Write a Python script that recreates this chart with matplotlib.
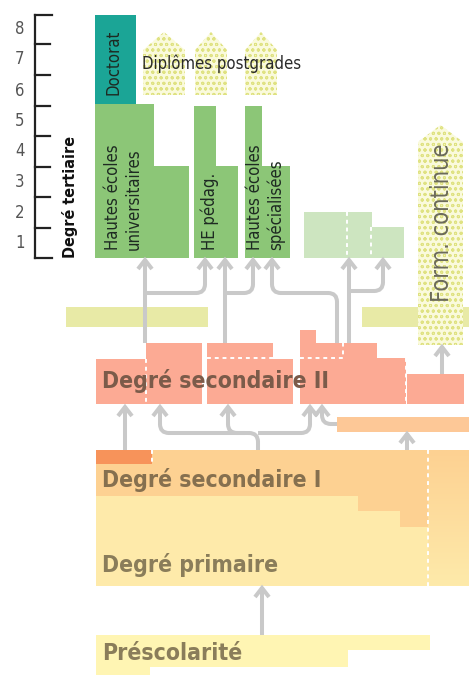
import numpy as np
import matplotlib
matplotlib.use("Agg")
import matplotlib.pyplot as plt
from matplotlib.patches import Rectangle, Polygon, PathPatch
from matplotlib.path import Path

# ---- diagram data (pixel grid of the original, y downwards) ----
scale_labels = ['8', '7', '6', '5', '4', '3', '2', '1']
scale_ticks = [15, 44, 75, 106, 136, 167, 197, 228, 258]

# (x0, x1, y_top, y_bottom, colour)
blocks = [
    # tertiary
    (95, 136, 15, 104, '#1ba596'),
    (95, 154, 104, 258, '#8cc677'),
    (154, 189, 166, 258, '#8cc677'),
    (194, 216, 106, 258, '#8cc677'),
    (216, 238, 166, 258, '#8cc677'),
    (245, 262, 106, 258, '#8cc677'),
    (262, 290, 166, 258, '#8cc677'),
    (304, 372, 212, 258, '#cde5c0'),
    (372, 404, 227, 258, '#cde5c0'),
    # bridge bars
    (66, 208, 307, 327, '#e8eaa6'),
    (362, 469, 307, 327, '#e8eaa6'),
    # upper secondary
    (96, 146, 359, 404, '#fcaa94'),
    (146, 202, 343, 404, '#fcaa94'),
    (207, 273, 343, 359, '#fcaa94'),
    (207, 293, 359, 404, '#fcaa94'),
    (300, 316, 330, 343, '#fcaa94'),
    (300, 377, 343, 404, '#fcaa94'),
    (377, 406, 358, 404, '#fcaa94'),
    (407, 464, 374, 404, '#fcaa94'),
    (337, 469, 417, 432, '#fdc897'),
    # lower secondary / primary
    (96, 428, 450, 586, '#feeaaa'),
    (96, 428, 450, 496, '#fdd192'),
    (358, 428, 496, 511, '#fdd192'),
    (400, 428, 511, 527, '#fdd192'),
    (96, 152, 450, 464, '#f7935a'),
    # pre-school
    (96, 430, 635, 650, '#fff5b3'),
    (96, 348, 650, 667, '#fff5b3'),
    (96, 150, 667, 675, '#fff5b3'),
]

# white dashed separators: list of polylines
dashes = [
    [(146, 359), (146, 404)],
    [(207, 358), (273, 358)],
    [(300, 358), (343, 358), (343, 343)],
    [(406, 358), (406, 404)],
    [(347, 212), (347, 258)],
    [(371, 227), (371, 258)],
    [(428, 450), (428, 586)],
    [(152, 450), (152, 464)],
]

# hatched arrows: (x0, x1, tip_y, shoulder_y, bottom_y)
hatched_arrows = [
    (143, 185, 32, 50, 95),
    (195, 227, 32, 50, 95),
    (245, 277, 32, 50, 95),
    (418, 463, 125, 142, 345),
]

# grey transition arrows: polylines ending at arrow tip
flows = [
    [(145, 343), (145, 259)],
    [(145, 293), (205, 293), (205, 259)],
    [(225, 343), (225, 259)],
    [(225, 293), (253, 293), (253, 259)],
    [(337, 343), (337, 293), (272, 293), (272, 259)],
    [(349, 343), (349, 259)],
    [(349, 291), (383, 291), (383, 259)],
    [(125, 450), (125, 406)],
    [(258, 450), (258, 433), (160, 433), (160, 406)],
    [(245, 433), (228, 433), (228, 406)],
    [(258, 433), (310, 433), (310, 406)],
    [(337, 424), (322, 424), (322, 406)],
    [(407, 450), (407, 433)],
    [(442, 374), (442, 346)],
    [(262, 635), (262, 587)],
]

# labels: (x, y, text, size, weight, rotation, colour, ha, va)
labels = [
    (113, 62, 'Doctorat', 12, 'normal', 90, '#1e2a22', 'center', 'center'),
    (113, 250, 'Hautes écoles', 12, 'normal', 90, '#1e2a22', 'center', 'bottom'),
    (134, 250, 'universitaires', 12, 'normal', 90, '#1e2a22', 'center', 'bottom'),
    (210, 250, 'HE pédag.', 12, 'normal', 90, '#1e2a22', 'center', 'bottom'),
    (255, 250, 'Hautes écoles', 12, 'normal', 90, '#1e2a22', 'center', 'bottom'),
    (276, 250, 'spécialisées', 12, 'normal', 90, '#1e2a22', 'center', 'bottom'),
    (142, 64, 'Diplômes postgrades', 12, 'normal', 0, '#2a2a2a', 'left', 'center'),
    (70, 258, 'Degré tertiaire', 11.5, 'bold', 90, '#111111', 'center', 'bottom'),
    (442, 302, 'Form. continue', 17, 'normal', 90, '#6b6a5a', 'center', 'bottom'),
    (102, 381, 'Degré secondaire II', 16.5, 'bold', 0, '#7b5b4a', 'left', 'center'),
    (102, 480, 'Degré secondaire I', 16.5, 'bold', 0, '#86704f', 'left', 'center'),
    (102, 565, 'Degré primaire', 16.5, 'bold', 0, '#8a7d5a', 'left', 'center'),
    (102, 654, 'Préscolarité', 16.5, 'bold', 0, '#8a7d5a', 'left', 'center'),
]

plt.rcParams['font.family'] = ['DejaVu Sans']
plt.rcParams['font.stretch'] = 'condensed'
plt.rcParams['hatch.linewidth'] = 0.7

GREY = '#c9c9c9'
LW = 2.9


def rounded(pts, r=9):
    verts = [pts[0]]
    codes = [Path.MOVETO]
    for i in range(1, len(pts) - 1):
        p0, p1, p2 = (np.array(p, float) for p in pts[i - 1:i + 2])
        d1 = (p1 - p0) / np.linalg.norm(p1 - p0)
        d2 = (p2 - p1) / np.linalg.norm(p2 - p1)
        verts += [tuple(p1 - d1 * r), tuple(p1), tuple(p1 + d2 * r)]
        codes += [Path.LINETO, Path.CURVE3, Path.CURVE3]
    verts.append(pts[-1])
    codes.append(Path.LINETO)
    return Path(verts, codes)


fig = plt.figure(figsize=(4.69, 6.75), dpi=100)
ax = fig.add_axes([0, 0, 1, 1])
ax.set_xlim(0, 469)
ax.set_ylim(675, 0)
ax.axis('off')

for x0, x1, y0, y1, c in blocks:
    ax.add_patch(Rectangle((x0, y0), x1 - x0, y1 - y0, facecolor=c, edgecolor='none', zorder=1))

# gradient on the right of lower secondary / primary
grad = np.linspace(0, 1, 100)[:, None]
c_top = np.array(matplotlib.colors.to_rgb('#fdd192'))
c_bot = np.array(matplotlib.colors.to_rgb('#feeaaa'))
img = c_top[None, None, :] * (1 - grad[..., None]) + c_bot[None, None, :] * grad[..., None]
ax.imshow(np.repeat(img, 2, axis=1), extent=(428, 469, 586, 450), aspect='auto', zorder=1)

for pl in dashes:
    xs, ys = zip(*pl)
    ax.plot(xs, ys, color='white', lw=1.4, ls=(0, (2, 2)), zorder=2)

for x0, x1, ty, sy, by in hatched_arrows:
    xm = (x0 + x1) / 2
    ax.add_patch(Polygon([(x0, by), (x0, sy), (xm, ty), (x1, sy), (x1, by)],
                         closed=True, facecolor='#fafadc', edgecolor='#dfe282', lw=0,
                         hatch='ooo', zorder=2))

for pl in flows:
    ax.add_patch(PathPatch(rounded(pl), fill=False, edgecolor=GREY, lw=LW,
                           capstyle='butt', joinstyle='round', zorder=3))
    (xa, ya), (xb, yb) = pl[-2], pl[-1]
    d = np.array([xb - xa, yb - ya], float)
    d /= np.linalg.norm(d)
    n = np.array([-d[1], d[0]])
    tip = np.array([xb, yb]) - d * 1
    left = tip - d * 9 + n * 7
    right = tip - d * 9 - n * 7
    ax.plot([left[0], tip[0], right[0]], [left[1], tip[1], right[1]], color=GREY, lw=LW,
            solid_joinstyle='miter', solid_capstyle='butt', zorder=3)

# tertiary scale
ax.plot([35, 35], [scale_ticks[0], scale_ticks[-1]], color='#222222', lw=1.6, zorder=4)
for i, t in enumerate(scale_ticks):
    x_end = 52 if i in (0, len(scale_ticks) - 1) else 50
    ax.plot([35, x_end], [t, t], color='#222222', lw=1.6, zorder=4)
for lab, t0, t1 in zip(scale_labels, scale_ticks[:-1], scale_ticks[1:]):
    ax.text(20, (t0 + t1) / 2, lab, fontsize=12, color='#555555', ha='center', va='center')

for x, y, s, fs, fw, rot, c, ha, va in labels:
    ax.text(x, y, s, fontsize=fs, fontweight=fw, rotation=rot, color=c, ha=ha, va=va, zorder=5)

fig.savefig('out.png', dpi=100)
